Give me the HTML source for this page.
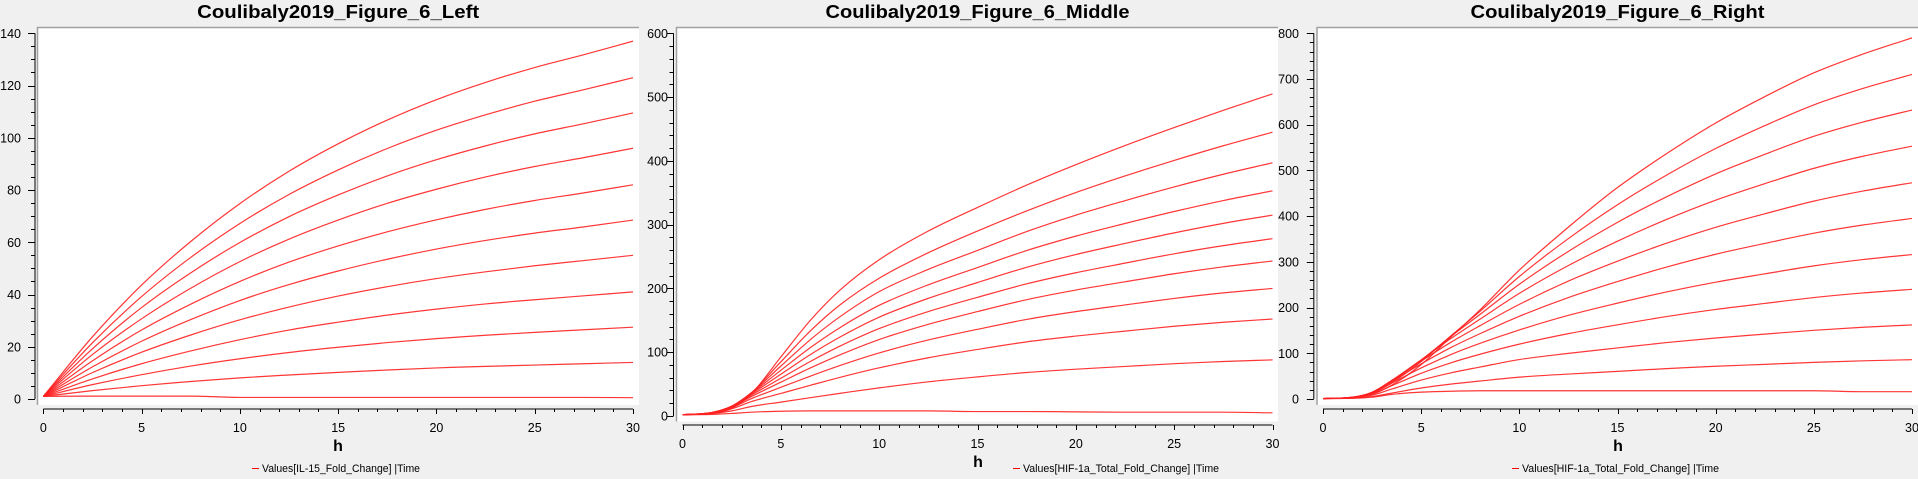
<!DOCTYPE html>
<html><head><meta charset="utf-8"><title>Coulibaly2019 Figure 6</title>
<style>
html,body{margin:0;padding:0;background:#f0f0f0;overflow:hidden}
svg{display:block;font-family:"Liberation Sans",sans-serif}
</style></head>
<body>
<svg id="fig" width="1918" height="479" viewBox="0 0 1918 479" xmlns="http://www.w3.org/2000/svg"></svg>
<script>
// ---------- DATA ----------
const leftTimes = [0,2.5,5,7.5,10,12.5,15,17.5,20,22.5,25,27.5,30];
const leftSeries = [
 [1,23.8,43.6,60.3,74.8,87.2,97.7,106.8,114.6,121.2,126.9,131.8,137],
 [1,21.5,39.2,54.2,67.2,78.3,87.7,95.9,102.9,108.8,114,118.4,123],
 [1,19.2,35,48.3,59.9,69.8,78.1,85.4,91.6,96.9,101.5,105.4,109.5],
 [1,17,30.7,42.4,52.6,61.2,68.5,74.9,80.3,85,89,92.4,96],
 [1,14.6,26.4,36.3,45,52.4,58.6,64,68.6,72.6,76,78.9,82],
 [1,12.3,22.1,30.4,37.7,43.8,49,53.5,57.4,60.7,63.5,65.9,68.5],
 [1,10.1,17.9,24.5,30.3,35.2,39.4,43,46.1,48.7,51,53,55],
 [1,7.7,13.5,18.4,22.7,26.4,29.4,32.1,34.4,36.4,38,39.5,41],
 [1,5.5,9.3,12.6,15.4,17.8,19.8,21.6,23.1,24.4,25.5,26.5,27.5],
 [1,3.2,5.1,6.7,8.1,9.2,10.2,11.1,11.9,12.5,13,13.5,14],
 [1,1.1,1.1,1.1,0.6,0.6,0.6,0.6,0.6,0.6,0.6,0.6,0.5]
];
const leftYTicks = [0,20,40,60,80,100,120,140];

const midTimes = [0,1.5,2.5,3.5,5,6.5,8,10,12.5,15,17.5,20,22.5,25,27.5,30];
const midSeries = [
 [2,4,12.1,34.7,92.5,149.9,197.2,245,290,327,362,394,424,452.2,479.3,505],
 [2,4.8,14,36.2,84.9,133.3,174,216,256,290,321.5,350.3,376.3,400.7,423.7,445],
 [2,5.2,15,36.4,78.2,119.7,155.5,195,229.9,259.6,289.2,314.9,337.6,359.1,379,397],
 [2,5.4,15.4,35.7,71.6,107.2,138.4,173.5,205.7,232.8,259.4,282,301.8,320.6,337.8,353],
 [2,5.5,15.4,34.5,65.5,96.3,123.7,155,184.5,209.3,233.1,253.1,270.5,287.1,302,315],
 [2,5.5,15,32.7,59.2,85.5,109.4,137,163.7,186,207.2,224.6,239.7,254.3,267.1,278],
 [2,5.4,14.4,30.5,53,75.3,95.8,119.9,143.8,163.7,182.4,197.5,210.4,223,233.9,243],
 [2,5.1,13.2,27.2,44.9,62.5,79.1,98.9,119.2,135.9,151.4,163.6,174.1,184.3,193,200],
 [2,4.6,11.3,22.6,35.3,48.1,60.5,75.5,91.3,104.3,116.2,125.3,133.1,140.7,147,152],
 [2,3.7,8,14.9,21.8,28.7,35.5,44.1,53.6,61.3,68.2,73.4,77.7,82,85.4,88],
 [2,2.5,4,6,7.5,8,8,8,8,7,7,6.5,6,6,6,5]
];
const midYTicks = [0,100,200,300,400,500,600];

const rightTimes = [0,1.5,2.5,3.5,5,6.5,8,10,12.5,15,17.5,20,22.5,25,27.5,30];
const rightSeries = [
 [1,3.4,10.5,30.2,75.2,135.1,195.1,282,376,462.6,536.7,603.8,661.4,713.5,754.5,790],
 [1,3.7,12.6,35.5,81.9,137.7,191.9,268,351,425,489.8,548,597.9,643.4,679.3,710],
 [1,3.9,13.9,38.9,85.2,136.5,185.1,251,323,386.4,442.3,492.4,535.2,574.6,605.8,632],
 [1,4,14.7,40.6,85.6,132,174.7,231,292,345.3,392.8,435,471,504.5,531,553],
 [1,3.9,14.7,40.3,82.8,123.7,160.4,207,258,301.5,340.8,375.6,405.2,432.9,454.9,473],
 [1,3.7,14.1,38.4,76.9,112.2,143,181,222,256.9,288.6,316.6,340.3,362.7,380.6,395],
 [1,3.4,12.8,34.5,67.9,96.9,121.7,151,183,209.7,234.2,255.6,273.8,291.2,305,316],
 [1,3,11,29.1,56.3,79,97.9,120,143,162.3,180.3,195.9,209.1,221.9,232,240],
 [1,2.5,8.4,21.8,41.4,57.1,69.9,86.3,99.8,111.7,123.4,133.5,141.9,150.3,156.9,162],
 [1,1.9,5.3,12.9,24,32.5,39.3,47.8,54.6,60.5,66.5,71.6,75.8,80.1,83.5,86],
 [1,1.5,4,10,15,17,18,18,18,18,18,18,18,18,16,16]
];
const rightYTicks = [0,100,200,300,400,500,600,700,800];
const xTicks = [0,5,10,15,20,25,30];

// ---------- DRAWING ----------
const NS = "http://www.w3.org/2000/svg";
const svg = document.getElementById('fig');
function mk(tag, attrs, parent){
  const e = document.createElementNS(NS, tag);
  for (const k in attrs) e.setAttribute(k, attrs[k]);
  (parent||svg).appendChild(e);
  return e;
}
function monoPath(pts){
  const n = pts.length; if(n<2) return '';
  const dx=[],dy=[],m=[],t=[];
  for(let i=0;i<n-1;i++){dx[i]=pts[i+1][0]-pts[i][0];dy[i]=pts[i+1][1]-pts[i][1];m[i]=dy[i]/dx[i];}
  t[0]=m[0];t[n-1]=m[n-2];
  for(let i=1;i<n-1;i++){ t[i]=(m[i-1]*m[i]<=0)?0:(m[i-1]+m[i])/2; }
  for(let i=0;i<n-1;i++){
    if(m[i]===0){t[i]=0;t[i+1]=0;continue;}
    const a=t[i]/m[i],b=t[i+1]/m[i],s=a*a+b*b;
    if(s>9){const k=3/Math.sqrt(s);t[i]=k*a*m[i];t[i+1]=k*b*m[i];}
  }
  let d='M'+pts[0][0].toFixed(2)+','+pts[0][1].toFixed(2);
  for(let i=0;i<n-1;i++){
    const h=dx[i]/3;
    d+='C'+(pts[i][0]+h).toFixed(2)+','+(pts[i][1]+t[i]*h).toFixed(2)+' '+
       (pts[i+1][0]-h).toFixed(2)+','+(pts[i+1][1]-t[i+1]*h).toFixed(2)+' '+
       pts[i+1][0].toFixed(2)+','+pts[i+1][1].toFixed(2);
  }
  return d;
}

function drawChart(cfg, times, series, yTicks){
  const g = mk('g', {});
  
  
  const xs = v => cfg.x0 + (v - 0) / 30 * (cfg.x1 - cfg.x0);
  const ys = v => cfg.y0 - v / cfg.yMax * (cfg.y0 - cfg.yTop);

  const panel = mk('rect', {x:cfg.pl, y:27, width:cfg.pr-cfg.pl, height:cfg.pb-27, fill:'#ffffff'}, g);
  
  
  mk('line', {x1:cfg.pl, y1:27.5, x2:cfg.pr, y2:27.5, stroke:'#a0a0a0', 'stroke-width':1.5}, g);
  mk('line', {x1:cfg.pl+0.5, y1:27, x2:cfg.pl+0.5, y2:cfg.pb, stroke:'#a0a0a0', 'stroke-width':1.5}, g);

  const title = mk('text', {x:(cfg.x0+cfg.x1)/2, y:18, 'text-anchor':'middle', 'font-size':18, 'font-weight':'bold', fill:'#000', textLength:cfg.titleLen, lengthAdjust:'spacingAndGlyphs'}, g);
  title.textContent = cfg.title;
  
  

  const yAxis = mk('g', {}, g);
  
  
  mk('line', {x1:cfg.ax, y1:ys(cfg.yMax), x2:cfg.ax, y2:cfg.y0, stroke:'#000', 'stroke-width':1}, yAxis);
  const step = yTicks[1]-yTicks[0];
  const minorStep = step/cfg.yMinorDiv;
  for(let v=0; v<=cfg.yMax+1e-9; v+=minorStep){
    const major = Math.abs(v/step - Math.round(v/step))<1e-6;
    const y = Math.round(ys(v))+0.5;
    mk('line', {x1:cfg.ax-(major?7:4), y1:y, x2:cfg.ax, y2:y, stroke:'#000', 'stroke-width':1}, yAxis);
  }
  yTicks.forEach(v=>{
    const t = mk('text', {x:cfg.lx, y:ys(v)+4.5, 'text-anchor':'end', 'font-size':12.5, fill:'#000'}, yAxis);
    t.textContent = v;
    
    
  });

  const xAxis = mk('g', {}, g);
  
  
  mk('line', {x1:xs(0), y1:cfg.xa, x2:xs(30), y2:cfg.xa, stroke:'#000', 'stroke-width':1}, xAxis);
  for(let v=0; v<=30; v++){
    const major = v%5===0;
    const x = Math.round(xs(v))+0.5;
    mk('line', {x1:x, y1:cfg.xa, x2:x, y2:cfg.xa+(major?5:3), stroke:'#000', 'stroke-width':1}, xAxis);
  }
  xTicks.forEach(v=>{
    const t = mk('text', {x:xs(v), y:cfg.xa+23, 'text-anchor':'middle', 'font-size':12.5, fill:'#000'}, xAxis);
    t.textContent = v;
    
    
  });
  const xt = mk('text', {x:cfg.hx, y:cfg.hy, 'text-anchor':'middle', 'font-size':16, 'font-weight':'bold', fill:'#000'}, xAxis);
  xt.textContent = 'h';
  
  

  const sg = mk('g', {}, g);
  
  
  series.forEach((vals, i)=>{
    const pts = vals.map((v,j)=>[xs(times[j]), ys(v)]);
    const p = mk('path', {d:monoPath(pts), fill:'none', stroke:'#ff2020', 'stroke-width':1.2, 'stroke-opacity':0.9}, sg);
    
    
  });

  const lg = mk('g', {}, g);
  
  
  mk('line', {x1:cfg.legX, y1:468.5, x2:cfg.legX+7, y2:468.5, stroke:'#ff0000', 'stroke-width':1}, lg);
  const lt = mk('text', {x:cfg.legX+10, y:472, 'font-size':11, fill:'#000', textLength:cfg.legLen, lengthAdjust:'spacingAndGlyphs'}, lg);
  lt.textContent = cfg.legend;
}

drawChart({name:'chart-left', title:'Coulibaly2019_Figure_6_Left', titleLen:282,
  x0:43.3, x1:633, pl:37, pr:639, pb:405, ax:35, lx:21, y0:399, yTop:33.3, yMax:140, yMinorDiv:4,
  xa:409, hx:338, hy:451, legX:252, legLen:158, legend:'Values[IL-15_Fold_Change] |Time'},
  leftTimes, leftSeries, leftYTicks);

drawChart({name:'chart-middle', title:'Coulibaly2019_Figure_6_Middle', titleLen:304,
  x0:682.5, x1:1272.5, pl:676, pr:1278, pb:421.5, ax:673.5, lx:668, y0:416, yTop:33.3, yMax:600, yMinorDiv:5,
  xa:425, hx:978, hy:467, legX:1013, legLen:196, legend:'Values[HIF-1a_Total_Fold_Change] |Time'},
  midTimes, midSeries, midYTicks);

drawChart({name:'chart-right', title:'Coulibaly2019_Figure_6_Right', titleLen:294,
  x0:1323, x1:1912, pl:1316.5, pr:1918, pb:405, ax:1313.8, lx:1299, y0:399, yTop:33.3, yMax:800, yMinorDiv:5,
  xa:409, hx:1618, hy:451, legX:1512, legLen:197, legend:'Values[HIF-1a_Total_Fold_Change] |Time'},
  rightTimes, rightSeries, rightYTicks);
</script>
</body></html>
